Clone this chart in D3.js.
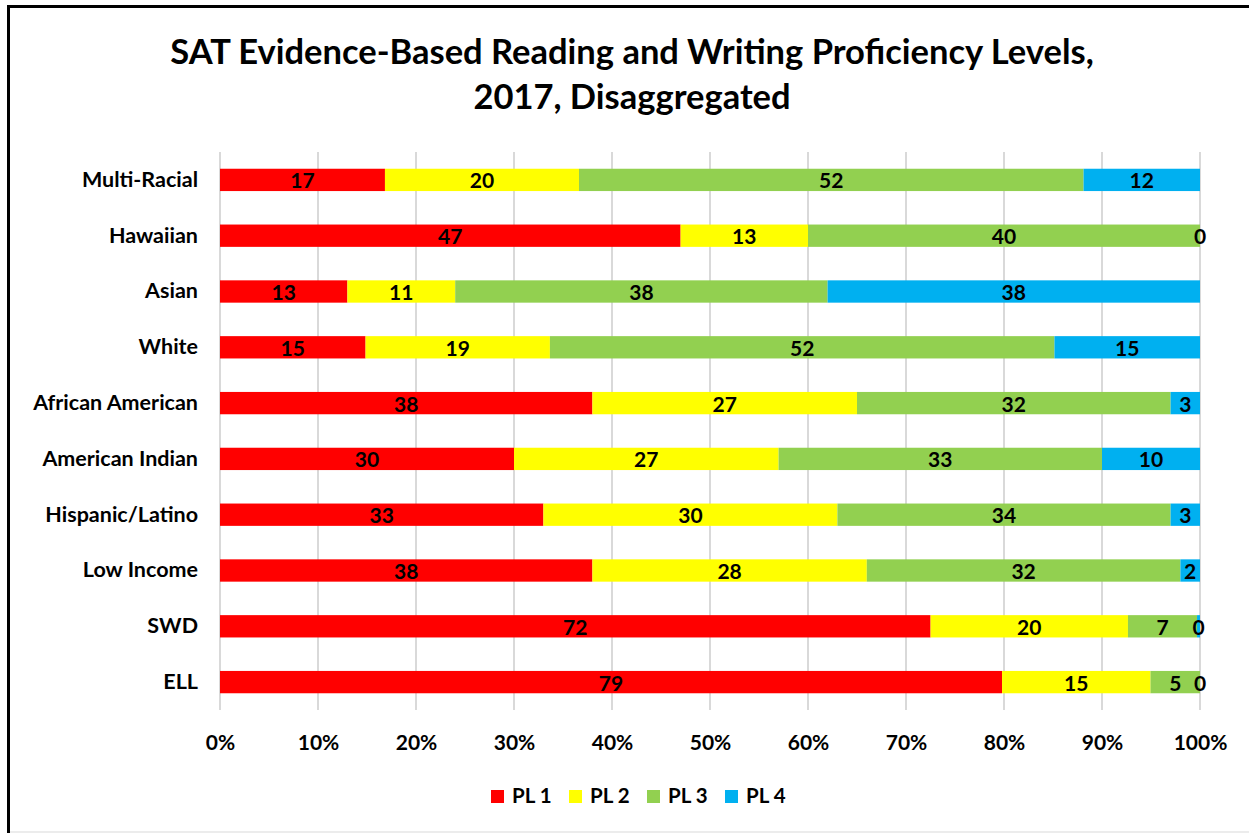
<!DOCTYPE html>
<html>
<head>
<meta charset="utf-8">
<script src="https://cdn.jsdelivr.net/npm/d3@7"></script>
<style>
  body { margin: 0; background: #fff; }
  svg text { font-family: Lato, "Open Sans", sans-serif; font-weight: bold; fill: #000; }
</style>
</head>
<body>
<div id="chart"></div>
<script>
// categories, top to bottom
var groups = ["Multi-Racial", "Hawaiian", "Asian", "White", "African American",
              "American Indian", "Hispanic/Latino", "Low Income", "SWD", "ELL"];
var levels = ["PL 1", "PL 2", "PL 3", "PL 4"];
var colors = ["#ff0000", "#ffff00", "#92d050", "#00b0f0"];

// values per level, in the order of groups
var pl1 = [17, 47, 13, 15, 38, 30, 33, 38, 72, 79];
var pl2 = [20, 13, 11, 19, 27, 27, 30, 28, 20, 15];
var pl3 = [52, 40, 38, 52, 32, 33, 34, 32, 7, 5];
var pl4 = [12, 0, 38, 15, 3, 10, 3, 2, 0.3, 0];

var xTicks = [0, 0.1, 0.2, 0.3, 0.4, 0.5, 0.6, 0.7, 0.8, 0.9, 1];

var W = 1249, H = 833;
var margin = {top: 152, right: 49, bottom: 123, left: 220};
var width = W - margin.left - margin.right,
    height = H - margin.top - margin.bottom;

var svg = d3.select("#chart").append("svg")
    .attr("width", W).attr("height", H);

// chart frame
svg.append("line").attr("x1", 8.5).attr("x2", 8.5).attr("y1", 5).attr("y2", 833)
    .attr("stroke", "#000").attr("stroke-width", 3);
svg.append("line").attr("x1", 7).attr("x2", W).attr("y1", 6.5).attr("y2", 6.5)
    .attr("stroke", "#000").attr("stroke-width", 3);
svg.append("line").attr("x1", 10).attr("x2", W).attr("y1", 832).attr("y2", 832)
    .attr("stroke", "#e6e6e6").attr("stroke-width", 1.5);

// title
var title = svg.append("text").attr("text-anchor", "middle")
    .style("font-size", "34.5px");
title.append("tspan").attr("x", 632).attr("y", 64)
    .text("SAT Evidence-Based Reading and Writing Proficiency Levels,");
title.append("tspan").attr("x", 632).attr("y", 109)
    .text("2017, Disaggregated");

var g = svg.append("g")
    .attr("transform", "translate(" + margin.left + "," + margin.top + ")");

// build stacked rows from the arrays
var rows = groups.map(function (name, i) {
    var vals = [pl1[i], pl2[i], pl3[i], pl4[i]];
    var total = d3.sum(vals);
    var acc = 0;
    return {
        name: name,
        segs: vals.map(function (v, k) {
            var s = {level: k, value: v, x0: acc / total, x1: (acc + v) / total};
            acc += v;
            return s;
        })
    };
});

var x = d3.scaleLinear().domain([0, 1]).range([0, width]);
var y = d3.scaleBand().domain(groups).range([0, height]).paddingInner(0.6).paddingOuter(0.3);

// gridlines
g.append("g")
    .selectAll("line")
    .data(xTicks)
    .join("line")
    .attr("x1", d => x(d)).attr("x2", d => x(d))
    .attr("y1", 0).attr("y2", height)
    .attr("stroke", "#d9d9d9").attr("stroke-width", 2);

// x axis labels
var xAxis = g.append("g")
    .attr("transform", "translate(0," + height + ")")
    .call(d3.axisBottom(x).tickValues(xTicks).tickFormat(d3.format(".0%")).tickSize(0).tickPadding(25));
xAxis.select(".domain").remove();
xAxis.selectAll("text").style("font-size", "21px").style("font-family", null);

// y axis labels
var yAxis = g.append("g")
    .call(d3.axisLeft(y).tickSize(0).tickPadding(22));
yAxis.select(".domain").remove();
yAxis.selectAll("text").style("font-size", "21.5px").style("font-family", null);

// bars
var row = g.selectAll(".row")
    .data(rows)
    .join("g")
    .attr("class", "row")
    .attr("transform", d => "translate(0," + y(d.name) + ")");

row.selectAll("rect")
    .data(d => d.segs)
    .join("rect")
    .attr("x", d => x(d.x0))
    .attr("width", d => x(d.x1) - x(d.x0))
    .attr("height", y.bandwidth())
    .attr("fill", d => colors[d.level]);

row.selectAll("text")
    .data(d => d.segs)
    .join("text")
    .attr("x", d => x((d.x0 + d.x1) / 2))
    .attr("y", y.bandwidth() / 2 + 1)
    .attr("dy", "0.36em")
    .attr("text-anchor", "middle")
    .style("font-size", "21px")
    .text(d => Math.round(d.value));

// legend
var legend = svg.append("g")
    .attr("transform", "translate(491,796)");
var item = legend.selectAll("g")
    .data(levels)
    .join("g")
    .attr("transform", (d, i) => "translate(" + i * 78 + ",0)");
item.append("rect")
    .attr("y", -6).attr("width", 13).attr("height", 13)
    .attr("fill", (d, i) => colors[i]);
item.append("text")
    .attr("x", 21).attr("dy", "0.36em")
    .style("font-size", "20.5px")
    .text(d => d);
</script>
</body>
</html>
